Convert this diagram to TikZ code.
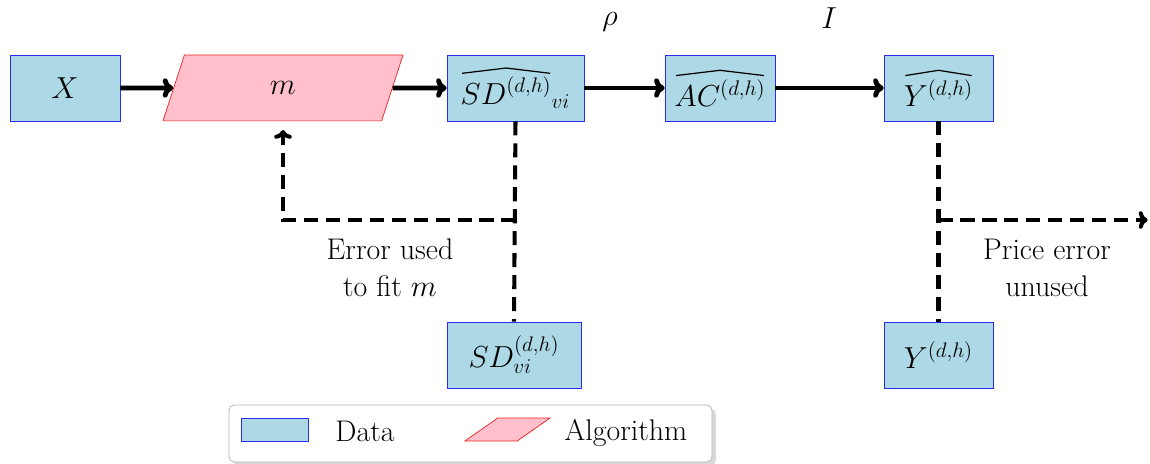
\documentclass[tikz,border=0pt]{standalone}
\usepackage{tikz}
\usetikzlibrary{positioning,shapes.geometric,arrows.meta,shadows,calc}
\definecolor{databox}{HTML}{ADD8E6}
\definecolor{dataline}{HTML}{2B2BF0}
\definecolor{algobox}{HTML}{FFC0CB}
\definecolor{algoline}{HTML}{F02020}
% wide hat over an estimate
\newcommand{\esthat}[1]{\tikz[baseline=(w.base)]{
    \node[shape=rectangle, draw=none, fill=none, inner sep=0pt, minimum size=0pt] (w) {$#1$};
    \draw[black, solid, line width=0.7pt]
        ($(w.north west)+(1pt,2pt)$) -- ($(w.north)+(0,5pt)$) -- ($(w.north east)+(-1pt,2pt)$);}}

\begin{document}
\begin{tikzpicture}[
    font=\fontsize{17}{21}\selectfont,
    data/.style={draw=dataline, fill=databox, minimum height=1.32cm, inner sep=2pt},
    algo/.style={trapezium, trapezium stretches body, draw=algoline, fill=algobox},
    flow/.style={-{To[length=6pt,width=11pt]}, line width=2.8pt},
    errline/.style={line width=2.3pt, dash pattern=on 8pt off 4.5pt}
]
    \useasboundingbox (0,0) rectangle (23,9.28);

    % Top row
    \node[data, minimum width=2.2cm] (x) at (1.3,7.52) {$X$};
    \node[algo, trapezium left angle=72, trapezium right angle=108,
          inner ysep=15pt, minimum width=4.8cm] (m) at (5.66,7.52) {$m$};
    \node[data, minimum width=2.74cm] (sdhat) at (10.31,7.52) {$\esthat{SD^{(d,h)}}_{vi}$};
    \node[data, minimum width=2.2cm] (achat) at (14.4,7.52) {$\esthat{AC^{(d,h)}}$};
    \node[data, minimum width=2.18cm] (yhat) at (18.77,7.52) {$\esthat{Y^{(d,h)}}$};

    % Bottom row (observed)
    \node[data, minimum width=2.68cm] (sdvi) at (10.28,2.18) {$SD^{(d,h)}_{vi}$};
    \node[data, minimum width=2.18cm] (y) at (18.77,2.18) {$Y^{(d,h)}$};

    % Main flow
    \draw[flow] (x) -- (m);
    \draw[flow] (m) -- (sdhat);
    \draw[flow] (sdhat) -- (achat);
    \draw[flow] (achat) -- (yhat);
    \node (rho) at (12.2,8.84) {$\rho$};
    \node (inc) at (16.58,8.92) {$I$};

    % Error used to fit m
    \coordinate (sdcorner) at (sdhat.south |- 0,4.88);
    \draw[errline] (sdhat.south) -- (sdvi.north);
    \draw[errline, -{To[length=5pt,width=10pt]}, shorten >=5pt]
        (sdcorner) -| (m.south);
    \node[align=center] (fiterr) at (7.8,3.92) {Error used\\to fit $m$};

    % Price error unused
    \coordinate (ycorner) at (yhat.south |- 0,4.88);
    \coordinate (yend) at (22.95,4.88);
    \draw[errline] (yhat.south) -- (y.north);
    \draw[errline, -{To[length=5pt,width=10pt]}] (ycorner) -- (yend);
    \node[align=center] (priceerr) at (20.94,3.92) {Price error\\unused};

    % Legend
    \node[draw=gray!60, rounded corners=3pt, fill=white, drop shadow={opacity=0.3},
          minimum width=9.66cm, minimum height=1.14cm] (legend) at (9.41,0.61) {};
    \node[draw=dataline, fill=databox, minimum width=1.34cm, minimum height=0.46cm,
          inner sep=0pt] (legdata) at (5.49,0.69) {};
    \node (legdatatxt) at (7.3,0.66) {Data};
    \node[algo, trapezium left angle=35, trapezium right angle=145,
          minimum width=1.7cm, inner xsep=1pt, inner ysep=6.5pt] (legalgo) at (10.15,0.69) {};
    \node (legalgotxt) at (12.52,0.62) {Algorithm};
\end{tikzpicture}
\end{document}
